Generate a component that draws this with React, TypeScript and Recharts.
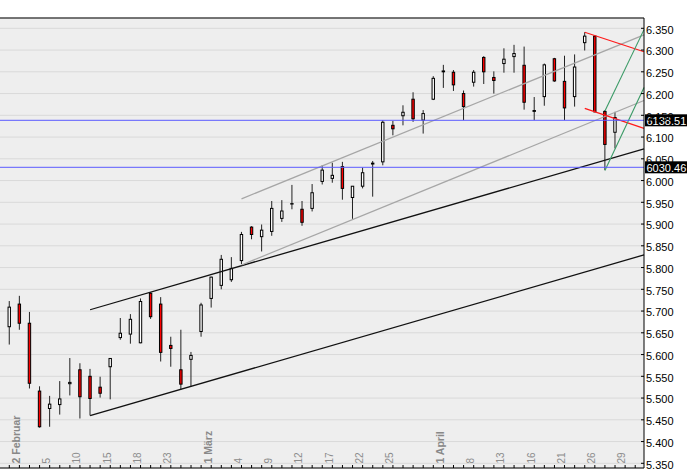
import React from "react";
import { ComposedChart, Bar, XAxis, YAxis, CartesianGrid, ReferenceLine } from "recharts";

// Trading days (DAX, Feb–Apr 2010); last two are empty slots on the axis
const tradingDays = [
  "2010-02-01", "2010-02-02", "2010-02-03", "2010-02-04", "2010-02-05",
  "2010-02-08", "2010-02-09", "2010-02-10", "2010-02-11", "2010-02-12",
  "2010-02-15", "2010-02-16", "2010-02-17", "2010-02-18", "2010-02-19",
  "2010-02-22", "2010-02-23", "2010-02-24", "2010-02-25", "2010-02-26",
  "2010-03-01", "2010-03-02", "2010-03-03", "2010-03-04", "2010-03-05",
  "2010-03-08", "2010-03-09", "2010-03-10", "2010-03-11", "2010-03-12",
  "2010-03-15", "2010-03-16", "2010-03-17", "2010-03-18", "2010-03-19",
  "2010-03-22", "2010-03-23", "2010-03-24", "2010-03-25", "2010-03-26",
  "2010-03-29", "2010-03-30", "2010-03-31", "2010-04-01", "2010-04-06",
  "2010-04-07", "2010-04-08", "2010-04-09", "2010-04-12", "2010-04-13",
  "2010-04-14", "2010-04-15", "2010-04-16", "2010-04-19", "2010-04-20",
  "2010-04-21", "2010-04-22", "2010-04-23", "2010-04-26", "2010-04-27",
  "2010-04-28", "2010-04-29", "2010-04-30",
];

const openP = [
  5664, 5716, 5672, 5516, 5476, 5485, 5533, 5565, 5550, 5525,
  5572, 5639, 5647, 5627, 5741, 5716, 5621, 5565, 5589, 5653,
  5729, 5759, 5772, 5816, 5893, 5871, 5883, 5913, 5946, 5934,
  5936, 5998, 6005, 6032, 5961, 5987, 6038, 6043, 6127, 6149,
  6187, 6139, 6187, 6250, 6249, 6200, 6226, 6283, 6237, 6269,
  6285, 6265, 6159, 6193, 6280, 6228, 6193, 6317, 6332, 6159,
  6111,
];
const highP = [
  5723, 5735, 5698, 5527, 5505, 5539, 5592, 5580, 5567, 5549,
  5591, 5684, 5693, 5729, 5743, 5732, 5641, 5657, 5606, 5719,
  5779, 5829, 5824, 5882, 5895, 5899, 5953, 5955, 5990, 5953,
  5992, 6035, 6041, 6043, 5987, 6030, 6045, 6139, 6137, 6173,
  6203, 6162, 6240, 6266, 6254, 6207, 6254, 6286, 6251, 6304,
  6312, 6308, 6192, 6269, 6282, 6287, 6290, 6341, 6334, 6162,
  6158,
];
const lowP = [
  5623, 5657, 5522, 5432, 5434, 5462, 5506, 5453, 5460, 5501,
  5497, 5634, 5625, 5626, 5682, 5584, 5572, 5519, 5526, 5641,
  5708, 5750, 5767, 5808, 5865, 5837, 5873, 5905, 5934, 5896,
  5929, 5991, 5995, 5956, 5912, 5982, 5963, 6035, 6104, 6127,
  6135, 6108, 6185, 6213, 6206, 6139, 6216, 6222, 6200, 6248,
  6248, 6163, 6139, 6172, 6227, 6139, 6170, 6299, 6157, 6024,
  6074,
];
const closeP = [
  5709, 5672, 5534, 5434, 5486, 5498, 5536, 5503, 5499, 5511,
  5591, 5649, 5681, 5722, 5687, 5605, 5614, 5532, 5598, 5714,
  5778, 5819, 5798, 5876, 5876, 5886, 5936, 5930, 5947, 5904,
  5972, 6024, 6012, 5982, 5987, 6018, 6040, 6134, 6119, 6157,
  6142, 6154, 6235, 6252, 6220, 6170, 6249, 6250, 6230, 6279,
  6292, 6180, 6161, 6266, 6229, 6167, 6261, 6332, 6158, 6083,
  6145,
];

const xLabelDays = [
  "2010-02-02", "2010-02-05", "2010-02-10", "2010-02-15", "2010-02-18",
  "2010-02-23", "2010-03-01", "2010-03-04", "2010-03-09", "2010-03-12",
  "2010-03-17", "2010-03-22", "2010-03-25", "2010-04-01", "2010-04-08",
  "2010-04-13", "2010-04-16", "2010-04-21", "2010-04-26", "2010-04-29",
];
const xLabelTexts = [
  "2 Februar", "5", "10", "15", "18", "23", "1 März", "4", "9", "12",
  "17", "22", "25", "1 April", "8", "13", "16", "21", "26", "29",
];

const yTicks = [
  5350, 5400, 5450, 5500, 5550, 5600, 5650, 5700, 5750, 5800, 5850,
  5900, 5950, 6000, 6050, 6100, 6150, 6200, 6250, 6300, 6350,
];

const priceMarkers = [6138.51, 6030.46];

// trend lines: [startDayIndex, startValue, endValue at right edge]
const blackLines = [
  [8, 5459.5, 5829],
  [8, 5703, 6073],
];
const grayLines = [
  [23, 5806, 6184],
  [23, 5958, 6335],
];
const redLines = [
  [57, 6341, 6296],
  [57, 6166, 6120],
];
const greenLines = [
  [59, 6160, 6347],
  [59, 6023, 6214],
];

const X_MIN = -0.921;
const X_MAX = 62.87;
const Y_MIN = 5339.2;
const Y_MAX = 6373.7;

const FONT = "'Liberation Sans', Arial, sans-serif";

const data = openP.map((o, i) => ({
  i,
  date: tradingDays[i],
  o,
  h: highP[i],
  l: lowP[i],
  c: closeP[i],
  range: [lowP[i], highP[i]],
}));

const allTickIdx = tradingDays.map((_, i) => i);

function fmtThousands(v: number) {
  const th = Math.floor(v / 1000);
  const rest = Math.round(v - th * 1000);
  return `${th}.${String(rest).padStart(3, "0")}`;
}

function Candle(props: any) {
  const { x, y, width, height, payload } = props;
  if (!payload || x == null) return null;
  const top = Math.min(y, y + height);
  const hh = Math.abs(height);
  const cx = x + width / 2;
  const { o, h, l, c } = payload;
  const k = hh / (h - l);
  const py = (v: number) => top + (h - v) * k;
  const bTop = py(Math.max(o, c));
  const bBot = py(Math.min(o, c));
  const up = c >= o;
  return (
    <g>
      <line x1={cx} x2={cx} y1={top} y2={top + hh} stroke="#222" strokeWidth={1} />
      <rect
        x={cx - 1.2}
        y={bTop}
        width={2.4}
        height={Math.max(bBot - bTop, 0.4)}
        fill={up ? "#ffffff" : "#ff0000"}
        stroke="#000"
        strokeWidth={1}
      />
    </g>
  );
}

function XTick(props: any) {
  const { x, y, payload } = props;
  const idx = payload.value;
  const k = xLabelDays.indexOf(tradingDays[idx]);
  const text = k >= 0 ? xLabelTexts[k] : null;
  const bold = text ? text.includes(" ") : false;
  return (
    <g>
      <line x1={x} x2={x} y1={y} y2={y - 3} stroke="#000" strokeWidth={1} />
      {text && (
        <text
          transform={`translate(${x + 0.3},${y - 4.5}) rotate(-90)`}
          textAnchor="start"
          fontFamily={FONT}
          fontSize={bold ? 10.5 : 10}
          fontWeight={bold ? "bold" : "normal"}
          fill={bold ? "#888888" : "#8c8c8c"}
        >
          {text}
        </text>
      )}
    </g>
  );
}

function YTick(props: any) {
  const { x, y, payload } = props;
  return (
    <g>
      <line x1={x - 3} x2={x} y1={y} y2={y} stroke="#000" strokeWidth={1} />
      <text x={x + 2} y={y} dy={5.2} fontFamily={FONT} fontSize={11} fill="#000">
        {fmtThousands(payload.value)}
      </text>
    </g>
  );
}

function PriceTag(props: any) {
  const { viewBox, value } = props;
  if (!viewBox) return null;
  const y = viewBox.y;
  const x0 = viewBox.x + viewBox.width + 1;
  return (
    <g>
      <rect x={x0} y={y - 6} width={42} height={12} fill="#000" />
      <text x={x0 + 1.5} y={y} dy={4.2} fontFamily={FONT} fontSize={11} fill="#ffffff">
        {value.toFixed(2)}
      </text>
    </g>
  );
}

function segLines(lines: number[][], color: string, width: number) {
  return lines.map((ln, k) => (
    <ReferenceLine
      key={`${color}-${k}`}
      segment={[
        { x: ln[0], y: ln[1] },
        { x: X_MAX, y: ln[2] },
      ]}
      stroke={color}
      strokeWidth={width}
      ifOverflow="visible"
    />
  ));
}

export default function App() {
  return (
    <div style={{ position: "absolute", left: 0, top: 0, width: 690, height: 475, background: "#fff" }}>
      <ComposedChart
        width={690}
        height={475}
        data={data}
        margin={{ top: 18, right: 0, bottom: 0, left: 0 }}
      >
        <CartesianGrid vertical={false} stroke="#d9d9d9" fill="#eeeeee" fillOpacity={1} />
        <XAxis
          type="number"
          dataKey="i"
          domain={[X_MIN, X_MAX]}
          allowDataOverflow
          ticks={allTickIdx}
          interval={0}
          tickLine={false}
          tickSize={0}
          tickMargin={0}
          height={7}
          axisLine={{ stroke: "#000", strokeWidth: 1 }}
          tick={<XTick />}
          padding={{ left: 0, right: 0 }}
        />
        <YAxis
          orientation="right"
          type="number"
          domain={[Y_MIN, Y_MAX]}
          allowDataOverflow
          ticks={yTicks}
          interval={0}
          width={46}
          tickLine={false}
          tickSize={0}
          tickMargin={0}
          axisLine={{ stroke: "#000", strokeWidth: 1 }}
          tick={<YTick />}
        />
        <Bar dataKey="range" barSize={4} isAnimationActive={false} shape={<Candle />} />
        {segLines(blackLines, "#111111", 1.3)}
        {segLines(grayLines, "#a6a6a6", 1.2)}
        {segLines(redLines, "#ff1a1a", 1.2)}
        {segLines(greenLines, "#3a9a66", 1.1)}
        <ReferenceLine y={Y_MAX} stroke="#000" strokeWidth={1} />
        {priceMarkers.map((p) => (
          <ReferenceLine
            key={p}
            y={p}
            stroke="#5a5aff"
            strokeWidth={1}
            label={(lp: any) => <PriceTag viewBox={lp.viewBox} value={p} />}
          />
        ))}
      </ComposedChart>
    </div>
  );
}
